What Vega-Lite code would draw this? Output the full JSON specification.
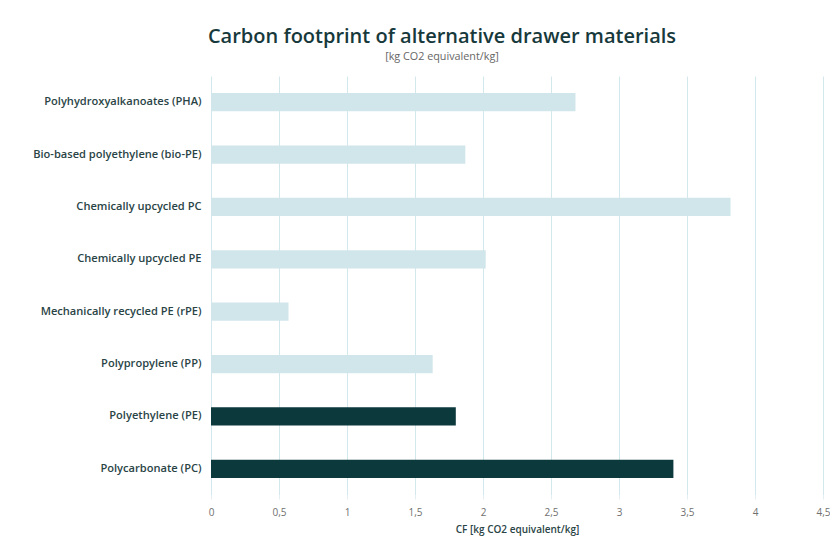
{
  "$schema": "https://vega.github.io/schema/vega-lite/v6.json",
  "width": 612,
  "height": 419,
  "autosize": {"type": "none"},
  "padding": {"left": 211, "top": 76, "right": 7, "bottom": 45},
  "background": "#ffffff",
  "title": {
    "text": "Carbon footprint of alternative drawer materials",
    "subtitle": "[kg CO2 equivalent/kg]",
    "anchor": "middle",
    "dx": -75,
    "offset": 14,
    "font": "Open Sans",
    "fontSize": 20,
    "fontWeight": 600,
    "color": "#17393c",
    "subtitleFont": "Open Sans",
    "subtitleFontSize": 10.8,
    "subtitleColor": "#666666",
    "subtitlePadding": 4
  },
  "data": {
    "values": [
      {"material": "Polyhydroxyalkanoates (PHA)", "cf": 2.68, "type": "alternative"},
      {"material": "Bio-based polyethylene (bio-PE)", "cf": 1.87, "type": "alternative"},
      {"material": "Chemically upcycled PC", "cf": 3.82, "type": "alternative"},
      {"material": "Chemically upcycled PE", "cf": 2.02, "type": "alternative"},
      {"material": "Mechanically recycled PE (rPE)", "cf": 0.57, "type": "alternative"},
      {"material": "Polypropylene (PP)", "cf": 1.63, "type": "alternative"},
      {"material": "Polyethylene (PE)", "cf": 1.8, "type": "current"},
      {"material": "Polycarbonate (PC)", "cf": 3.4, "type": "current"}
    ]
  },
  "mark": {"type": "bar", "cornerRadius": 0},
  "encoding": {
    "y": {
      "field": "material",
      "type": "nominal",
      "sort": null,
      "scale": {"paddingInner": 0.65, "paddingOuter": 0.325},
      "axis": {
        "title": null,
        "ticks": false,
        "domain": false,
        "labelPadding": 10,
        "labelFont": "Open Sans",
        "labelFontSize": 11.1,
        "labelFontWeight": 600,
        "labelColor": "#2a4446",
        "labelLimit": 300
      }
    },
    "x": {
      "field": "cf",
      "type": "quantitative",
      "scale": {"domain": [0, 4.5], "nice": false},
      "axis": {
        "title": "CF [kg CO2 equivalent/kg]",
        "values": [0, 0.5, 1, 1.5, 2, 2.5, 3, 3.5, 4, 4.5],
        "format": ".1~f",
        "labelExpr": "replace(datum.label, '.', ',')",
        "grid": true,
        "gridColor": "#d3e8ec",
        "gridWidth": 1,
        "domain": false,
        "ticks": true,
        "tickColor": "#e3eff1",
        "tickSize": 4,
        "labelPadding": 8,
        "labelFont": "Open Sans",
        "labelFontSize": 10,
        "labelColor": "#707070",
        "labelFlush": false,
        "titleFont": "Open Sans",
        "titleFontSize": 10,
        "titleFontWeight": 600,
        "titleColor": "#2a4446",
        "titlePadding": 7
      }
    },
    "color": {
      "field": "type",
      "type": "nominal",
      "scale": {"domain": ["alternative", "current"], "range": ["#d1e6eb", "#0c393c"]},
      "legend": null
    }
  },
  "config": {
    "view": {"stroke": null},
    "font": "Open Sans"
  }
}
